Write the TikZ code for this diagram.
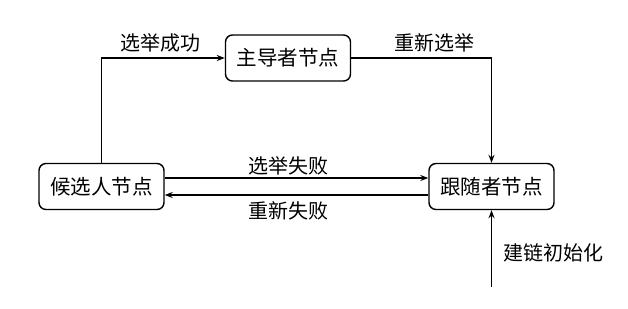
\documentclass[tikz,border=0pt]{standalone}
\usepackage{fontspec}
\setmainfont{Noto Sans CJK SC}
\usetikzlibrary{arrows.meta}
\begin{document}
\begin{tikzpicture}[x=1pt,y=-1pt,
  statebox/.style={draw, line width=1.4pt, rounded corners=7pt, minimum width=125pt, minimum height=46pt, inner sep=0pt, font=\fontsize{20.5}{22}\selectfont},
  lbl/.style={inner sep=0pt, font=\fontsize{20}{22}\selectfont},
  conn/.style={line width=1.3pt, -{Stealth[length=8pt,width=6pt]}}]
\useasboundingbox (0,0) rectangle (628,308);
\node[statebox] (leader) at (288,58) {主导者节点};
\node[statebox] (cand) at (101.5,186.5) {候选人节点};
\node[statebox] (foll) at (491.5,186.5) {跟随者节点};
\coordinate (init) at (491.5,287);
\draw[conn] (cand.north) |- (leader.west);
\draw[conn] (leader.east) -| (foll.north);
\draw[conn] ([yshift=8.5pt]cand.east) -- ([yshift=8.5pt]foll.west);
\draw[conn] ([yshift=-8.5pt]foll.west) -- ([yshift=-8.5pt]cand.east);
\draw[conn] (init) -- (foll.south);
\node[lbl] (l1) at (160,43) {选举成功};
\node[lbl] (l2) at (434,43) {重新选举};
\node[lbl] (l3) at (288,166) {选举失败};
\node[lbl] (l4) at (288,211) {重新失败};
\node[lbl] (l5) at (553,253) {建链初始化};
\end{tikzpicture}
\end{document}
